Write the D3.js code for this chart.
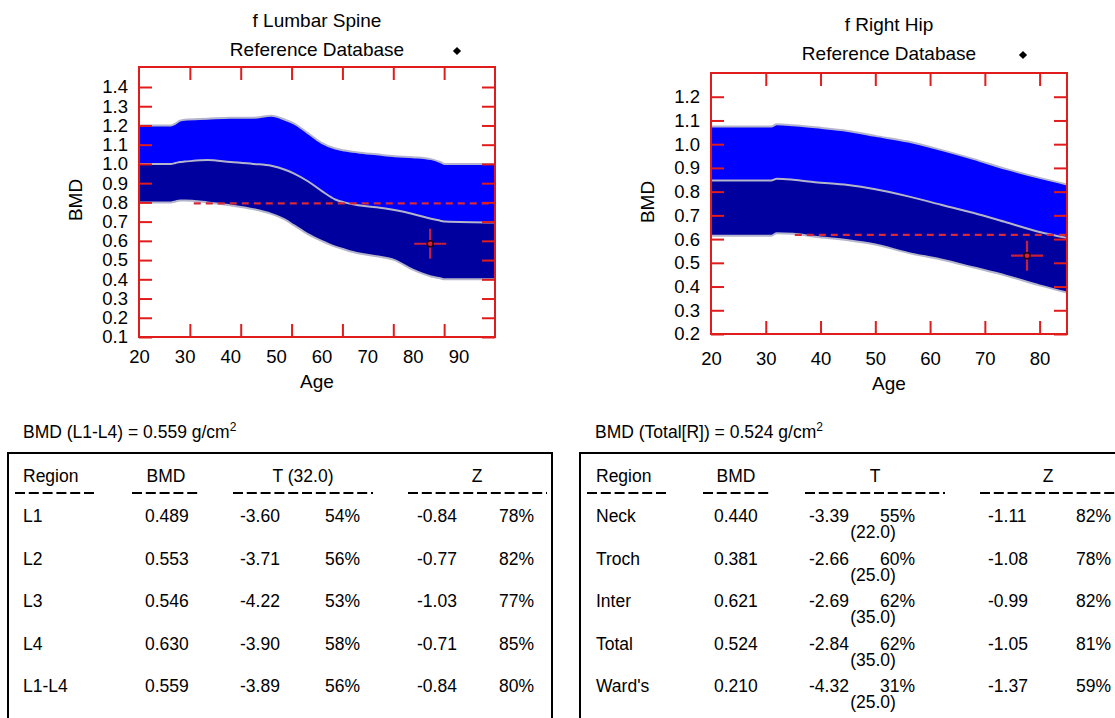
<!DOCTYPE html>
<html>
<head>
<meta charset="utf-8">
<script src="https://cdn.jsdelivr.net/npm/d3@7"></script>
<style>
  body { margin: 0; background: #fff; }
  svg { display: block; font-family: "Liberation Sans", Arial, sans-serif; }
</style>
</head>
<body>
<svg id="chart" width="1115" height="718"></svg>
<script>
// ---- lumbar spine reference curves (age -> BMD)
const spineAges  = [20, 25, 27, 28, 29, 30, 35, 40, 45, 49, 52, 54, 57, 60, 63, 65, 68, 72, 76, 80, 84, 86, 87, 98];
const spineUpper = [1.20, 1.20, 1.20, 1.21, 1.225, 1.23, 1.235, 1.24, 1.24, 1.25, 1.23, 1.21, 1.16, 1.11, 1.08, 1.07, 1.06, 1.05, 1.04, 1.035, 1.025, 1.01, 1.0, 1.0];
const spineMean  = [1.0, 1.0, 1.0, 1.005, 1.01, 1.012, 1.02, 1.01, 1.0, 0.99, 0.97, 0.95, 0.91, 0.86, 0.815, 0.80, 0.785, 0.775, 0.76, 0.74, 0.715, 0.705, 0.70, 0.695];
const spineLower = [0.80, 0.80, 0.80, 0.805, 0.81, 0.81, 0.80, 0.785, 0.765, 0.74, 0.71, 0.68, 0.635, 0.60, 0.57, 0.555, 0.535, 0.52, 0.50, 0.45, 0.415, 0.405, 0.40, 0.40];
const spinePatient = { age: 83.8, bmd: 0.585 };
const spineRefLine = { from: 32, bmd: 0.795 };
const spineYTicks = [0.1, 0.2, 0.3, 0.4, 0.5, 0.6, 0.7, 0.8, 0.9, 1.0, 1.1, 1.2, 1.3, 1.4];
const spineXLabels = [20, 30, 40, 50, 60, 70, 80, 90];

// ---- right hip reference curves
const hipAges  = [20, 31, 32, 35, 39, 45, 50, 56, 62, 68, 74, 80, 85];
const hipUpper = [1.074, 1.074, 1.084, 1.08, 1.071, 1.056, 1.035, 1.011, 0.976, 0.937, 0.895, 0.858, 0.83];
const hipMean  = [0.847, 0.847, 0.854, 0.85, 0.84, 0.828, 0.81, 0.78, 0.745, 0.71, 0.67, 0.63, 0.605];
const hipLower = [0.614, 0.614, 0.625, 0.622, 0.61, 0.595, 0.577, 0.542, 0.514, 0.48, 0.445, 0.405, 0.375];
const hipPatient = { age: 77.7, bmd: 0.53 };
const hipRefLine = { from: 35.3, bmd: 0.618 };
const hipYTicks = [0.2, 0.3, 0.4, 0.5, 0.6, 0.7, 0.8, 0.9, 1.0, 1.1, 1.2];
const hipXLabels = [20, 30, 40, 50, 60, 70, 80];

// ---- result tables
const spineRegions = ['L1', 'L2', 'L3', 'L4', 'L1-L4'];
const spineBmd     = ['0.489', '0.553', '0.546', '0.630', '0.559'];
const spineT       = ['-3.60', '-3.71', '-4.22', '-3.90', '-3.89'];
const spineTPct    = ['54%', '56%', '53%', '58%', '56%'];
const spineZ       = ['-0.84', '-0.77', '-1.03', '-0.71', '-0.84'];
const spineZPct    = ['78%', '82%', '77%', '85%', '80%'];

const hipRegions = ['Neck', 'Troch', 'Inter', 'Total', "Ward's"];
const hipBmd     = ['0.440', '0.381', '0.621', '0.524', '0.210'];
const hipT       = ['-3.39', '-2.66', '-2.69', '-2.84', '-4.32'];
const hipTPct    = ['55%', '60%', '62%', '62%', '31%'];
const hipTAge    = ['(22.0)', '(25.0)', '(35.0)', '(35.0)', '(25.0)'];
const hipZ       = ['-1.11', '-1.08', '-0.99', '-1.05', '-1.37'];
const hipZPct    = ['82%', '78%', '82%', '81%', '59%'];

const RED = '#e01c1c';
const svg = d3.select('#chart');
svg.append('rect').attr('width', 1115).attr('height', 718).attr('fill', '#fff');

/************************************************************/
// one reference chart
function drawChart(cfg){
    const x = d3.scaleLinear().domain(cfg.xDomain).range([cfg.left, cfg.right]);
    const y = d3.scaleLinear().domain(cfg.yDomain).range([cfg.bottom, cfg.top]);
    const g = svg.append('g');
    const clipId = 'clip-' + cfg.id;
    g.append('clipPath').attr('id', clipId).append('rect')
        .attr('x', cfg.left).attr('y', cfg.top)
        .attr('width', cfg.right - cfg.left).attr('height', cfg.bottom - cfg.top);

    const rows = cfg.ages.map((a, i) => ({ age: a, up: cfg.upper[i], mid: cfg.mean[i], lo: cfg.lower[i] }));
    const plot = g.append('g').attr('clip-path', 'url(#' + clipId + ')');
    const curve = d3.curveMonotoneX;
    plot.append('path').datum(rows)
        .attr('d', d3.area().curve(curve).x(d => x(d.age)).y0(d => y(d.mid)).y1(d => y(d.up)))
        .attr('fill', '#0000ff');
    plot.append('path').datum(rows)
        .attr('d', d3.area().curve(curve).x(d => x(d.age)).y0(d => y(d.lo)).y1(d => y(d.mid)))
        .attr('fill', '#00009e');
    ['up', 'mid', 'lo'].forEach(k => {
        plot.append('path').datum(rows)
            .attr('d', d3.line().curve(curve).x(d => x(d.age)).y(d => y(d[k])))
            .attr('fill', 'none').attr('stroke', '#b4b4cc').attr('stroke-width', 2);
    });

    // dashed reference line
    plot.append('line')
        .attr('x1', x(cfg.refLine.from)).attr('x2', x(cfg.xDomain[1]))
        .attr('y1', y(cfg.refLine.bmd)).attr('y2', y(cfg.refLine.bmd))
        .attr('stroke', '#d42a3a').attr('stroke-width', 2.2).attr('stroke-dasharray', '7,5');

    // patient cross
    const px = x(cfg.patient.age), py = y(cfg.patient.bmd);
    plot.append('line').attr('x1', px - 16).attr('x2', px + 16).attr('y1', py).attr('y2', py)
        .attr('stroke', '#c8203a').attr('stroke-width', 2.2);
    plot.append('line').attr('x1', px).attr('x2', px).attr('y1', py - 15).attr('y2', py + 15)
        .attr('stroke', '#c8203a').attr('stroke-width', 2.2);
    plot.append('circle').attr('cx', px).attr('cy', py).attr('r', 3)
        .attr('fill', '#e0203a').attr('stroke', '#200010').attr('stroke-width', 1.5);

    // axes: inside ticks on all four sides
    const styleAxis = sel => {
        sel.select('.domain').remove();
        sel.selectAll('.tick line').attr('stroke', RED).attr('stroke-width', 2);
        sel.selectAll('.tick text').attr('fill', '#000').style('font-size', '18.5px')
            .style('font-family', '"Liberation Sans", Arial, sans-serif');
    };
    g.append('g').attr('transform', `translate(${cfg.left},0)`)
        .call(d3.axisLeft(y).tickValues(cfg.yTicks).tickSize(-13).tickPadding(11).tickFormat(d3.format('.1f')))
        .call(styleAxis);
    g.append('g').attr('transform', `translate(${cfg.right},0)`)
        .call(d3.axisRight(y).tickValues(cfg.yTicks).tickSize(-13).tickFormat(''))
        .call(styleAxis);
    g.append('g').attr('transform', `translate(0,${cfg.top})`)
        .call(d3.axisTop(x).tickValues(cfg.xTicks).tickSize(-13).tickFormat(''))
        .call(styleAxis);
    g.append('g').attr('transform', `translate(0,${cfg.bottom})`)
        .call(d3.axisBottom(x).tickValues(cfg.xTicks).tickSize(-13).tickFormat(''))
        .call(styleAxis);
    g.append('g').attr('transform', `translate(0,${cfg.bottom})`)
        .call(d3.axisBottom(x).tickValues(cfg.xLabels).tickSize(0).tickPadding(cfg.xPad).tickFormat(d3.format('d')))
        .call(styleAxis);

    // frame
    g.append('rect').attr('x', cfg.left).attr('y', cfg.top)
        .attr('width', cfg.right - cfg.left).attr('height', cfg.bottom - cfg.top)
        .attr('fill', 'none').attr('stroke', RED).attr('stroke-width', 2);

    const cx = (cfg.left + cfg.right) / 2;
    g.append('text').attr('x', cx).attr('y', cfg.titleY).attr('text-anchor', 'middle')
        .style('font-size', '19px').text(cfg.title);
    g.append('text').attr('x', cx).attr('y', cfg.titleY + 29).attr('text-anchor', 'middle')
        .style('font-size', '19px').text('Reference Database');
    // legend marker: small square turned 45 degrees
    g.append('path').attr('d', d3.symbol(d3.symbolSquare, 34)())
        .attr('transform', `translate(${cfg.right - cfg.diamondOff},${cfg.titleY + 24}) rotate(45)`)
        .attr('fill', '#000');
    g.append('text').attr('x', cx).attr('y', cfg.ageY).attr('text-anchor', 'middle')
        .style('font-size', '19px').text('Age');
    g.append('text').attr('transform', `translate(${cfg.bmdX},${cfg.bmdY}) rotate(-90)`)
        .attr('text-anchor', 'middle').style('font-size', '19px').text('BMD');
}

// left chart: tick marks split the age range into 7 equal parts
const spineDomain = [20, 98];
drawChart({
    id: 'spine', title: 'f Lumbar Spine',
    left: 139, right: 495, top: 67, bottom: 337,
    xDomain: spineDomain, yDomain: [0.1, 1.504],
    xTicks: d3.range(1, 7).map(i => spineDomain[0] + i * (spineDomain[1] - spineDomain[0]) / 7),
    xLabels: spineXLabels, yTicks: spineYTicks, xPad: 13,
    ages: spineAges, upper: spineUpper, mean: spineMean, lower: spineLower,
    patient: spinePatient, refLine: spineRefLine,
    titleY: 27, ageY: 388, bmdX: 82, bmdY: 200, diamondOff: 38
});
drawChart({
    id: 'hip', title: 'f Right Hip',
    left: 711, right: 1067, top: 73, bottom: 334,
    xDomain: [20, 85], yDomain: [0.2, 1.3],
    xTicks: [30, 40, 50, 60, 70, 80],
    xLabels: hipXLabels, yTicks: hipYTicks, xPad: 18,
    ages: hipAges, upper: hipUpper, mean: hipMean, lower: hipLower,
    patient: hipPatient, refLine: hipRefLine,
    titleY: 31, ageY: 390, bmdX: 654, bmdY: 202, diamondOff: 44
});

/************************************************************/
// tables
function dashes(x1, x2, yy){
    svg.append('line').attr('x1', x1).attr('x2', x2).attr('y1', yy).attr('y2', yy)
        .attr('stroke', '#000').attr('stroke-width', 1.8).attr('stroke-dasharray', '10,3.8');
}
function txt(xx, yy, s, anchor){
    return svg.append('text').attr('x', xx).attr('y', yy).attr('text-anchor', anchor || 'start')
        .style('font-size', '17.5px').attr('fill', '#000').text(s);
}
function heading(xx, s){
    const t = txt(xx, 438, s);
    t.append('tspan').attr('dy', -7).style('font-size', '12px').text('2');
}

const rowY = d3.scaleLinear().domain([0, 4]).range([522, 692]);

// left table
heading(23, 'BMD (L1-L4) = 0.559 g/cm');
svg.append('path').attr('d', 'M8,720V453H552V720').attr('fill', 'none').attr('stroke', '#000').attr('stroke-width', 2);
txt(23, 482, 'Region'); txt(166, 482, 'BMD', 'middle'); txt(303, 482, 'T (32.0)', 'middle'); txt(477, 482, 'Z', 'middle');
dashes(15, 97, 493); dashes(132, 200, 493); dashes(233, 373, 493); dashes(408, 547, 493);
spineRegions.forEach((r, i) => {
    const yy = rowY(i);
    txt(23, yy, r);
    txt(145, yy, spineBmd[i]);
    txt(240, yy, spineT[i]);
    txt(325, yy, spineTPct[i]);
    txt(417, yy, spineZ[i]);
    txt(499, yy, spineZPct[i]);
});

// right table
heading(595, 'BMD (Total[R]) = 0.524 g/cm');
svg.append('path').attr('d', 'M580,720V453H1120').attr('fill', 'none').attr('stroke', '#000').attr('stroke-width', 2);
txt(596, 482, 'Region'); txt(736, 482, 'BMD', 'middle'); txt(875, 482, 'T', 'middle'); txt(1048, 482, 'Z', 'middle');
dashes(587, 668, 493); dashes(703, 772, 493); dashes(805, 945, 493); dashes(980, 1118, 493);
hipRegions.forEach((r, i) => {
    const yy = rowY(i);
    txt(596, yy, r);
    txt(714, yy, hipBmd[i]);
    txt(809, yy, hipT[i]);
    txt(880, yy, hipTPct[i]);
    txt(873, yy + 16, hipTAge[i], 'middle');
    txt(988, yy, hipZ[i]);
    txt(1076, yy, hipZPct[i]);
});
</script>
</body>
</html>
